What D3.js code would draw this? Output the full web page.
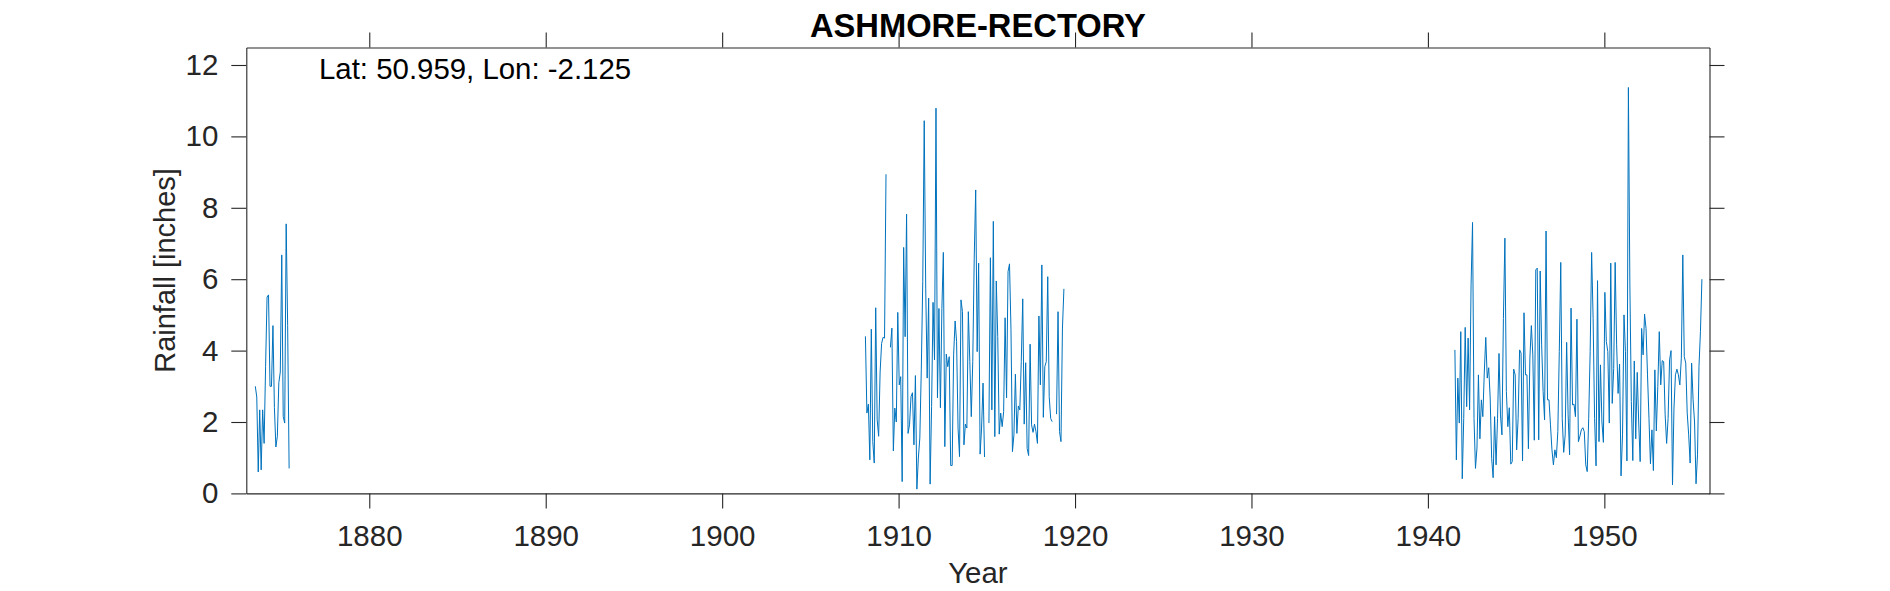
<!DOCTYPE html>
<html>
<head>
<meta charset="utf-8">
<script src="https://cdn.jsdelivr.net/npm/d3@7"></script>
<style>
html,body{margin:0;padding:0;background:#fff;}
svg{display:block;}
text{font-family:"Liberation Sans",Arial,sans-serif;}
</style>
</head>
<body>
<svg id="chart" width="1890" height="591"></svg>
<script>
const chartTitle = "ASHMORE-RECTORY";
const annotation = "Lat: 50.959, Lon: -2.125";
const xLabel = "Year";
const yLabel = "Rainfall [inches]";
const xTicks = [1880,1890,1900,1910,1920,1930,1940,1950];
const yTicks = [0,2,4,6,8,10,12];
const xDomain = [1873.03,1955.96];
const yDomain = [0,12.49];

const start1 = 1873.54;
const rain1 = [3.0,2.7,0.6,2.34,0.66,2.34,1.4,3.55,5.5,5.56,3.0,3.0,4.7,2.4,1.3,1.6,3.1,3.4,6.68,2.15,1.97,7.55,4.7,0.7];

const start2 = 1908.12;
const rain2 = [4.4,2.25,2.5,0.94,4.6,1.45,0.85,5.2,2.06,1.6,3.4,4.2,4.37,4.35,8.94,null,null,
4.09,4.63,1.19,2.39,2.0,5.07,3.04,3.27,0.33,6.89,4.39,7.82,1.68,1.92,2.71,2.82,1.36,3.3,0.12,0.99,1.55,3.46,5.93,10.44,5.75,3.23,5.47,0.26,2.43,5.35,3.74,10.79,2.68,5.18,2.4,5.18,6.75,1.31,3.9,3.55,3.83,0.78,0.78,3.88,4.83,4.25,1.83,1.03,5.42,5.09,1.36,1.94,1.83,5.09,
3.69,2.15,3.7,6.59,8.5,3.97,6.45,1.1,1.83,3.09,1.02,null,null,
1.97,6.6,2.34,7.62,1.59,5.95,4.39,1.66,2.25,1.87,2.29,4.92,2.68,6.21,6.43,4.6,1.17,1.64,3.34,1.68,2.45,2.34,3.69,5.45,1.94,3.66,1.26,1.06,4.18,1.92,1.71,1.94,1.73,1.4,4.97,3.04,6.4,2.13,3.55,3.69,6.07,2.71,2.1,2.01,null,null,
2.22,5.09,1.73,1.45,4.63,5.73];

const start3 = 1941.53;
const rain3 = [4.02,0.94,3.23,1.97,4.53,0.41,2.1,4.65,2.43,4.35,2.34,5.84,7.59,2.1,0.7,1.27,3.32,1.53,2.62,2.15,3.4,4.37,3.23,3.52,2.67,0.98,0.44,2.15,0.8,2.1,3.92,2.2,1.64,4.9,7.15,2.85,1.87,2.4,0.82,0.89,3.48,3.32,1.22,2.1,4.02,3.93,0.91,5.06,3.32,3.32,1.25,3.79,4.7,3.88,1.49,6.26,6.31,1.5,6.23,4.16,2.85,2.06,7.35,2.62,2.62,1.92,1.22,0.8,1.22,1.0,1.73,3.97,6.47,2.1,1.15,1.64,4.23,2.2,1.08,5.19,2.48,2.5,2.15,4.88,1.45,1.6,
1.78,1.84,1.73,0.8,0.61,2.1,3.97,6.75,4.9,2.1,0.77,5.96,1.45,3.6,2.0,1.43,5.63,4.25,3.97,1.97,6.45,2.52,3.5,6.47,4.16,2.8,3.62,0.49,1.64,5.0,3.97,0.91,11.37,5.84,2.57,0.92,3.71,1.53,3.39,2.0,0.89,4.62,3.88,5.02,4.62,3.32,2.1,0.83,1.78,0.64,3.46,1.75,3.0,4.53,3.04,3.72,3.69,2.2,1.4,2.1,3.74,4.0,0.24,2.39,3.32,3.48,3.32,3.04,3.79,6.68,3.83,3.65,2.25,1.64,0.85,3.65,2.62,2.0,0.27,1.08,3.55,4.53,6.0];

const segments = [[start1,rain1],[start2,rain2],[start3,rain3]];

const plotLeft=246.3,plotRight=1709.5,plotTop=47.5,plotBottom=493.4;
const axisColor="#262626", lineColor="#0072BD";
const svg=d3.select("#chart");
const x=d3.scaleLinear().domain(xDomain).range([plotLeft,plotRight]);
const y=d3.scaleLinear().domain(yDomain).range([plotBottom,plotTop]);

const style=(g,size)=>{
  g.selectAll("path.domain").attr("stroke",axisColor).attr("stroke-width",1.1);
  g.selectAll("line").attr("stroke",axisColor).attr("stroke-width",1.1);
  g.selectAll("text").attr("fill",axisColor).style("font-size",size+"px").style("font-family",'"Liberation Sans",Arial,sans-serif');
};
const fmt=d3.format("d");
const blank=()=>"";
svg.append("g").attr("transform",`translate(0,${plotBottom})`)
  .call(d3.axisBottom(x).tickValues(xTicks).tickFormat(fmt).tickSize(15).tickSizeOuter(0).tickPadding(17))
  .call(style,29.5);
svg.append("g").attr("transform",`translate(0,${plotTop})`)
  .call(d3.axisTop(x).tickValues(xTicks).tickFormat(blank).tickSize(15).tickSizeOuter(0))
  .call(style,29.5);
svg.append("g").attr("transform",`translate(${plotLeft},0)`)
  .call(d3.axisLeft(y).tickValues(yTicks).tickFormat(fmt).tickSize(15).tickSizeOuter(0).tickPadding(13))
  .call(style,29.5);
svg.append("g").attr("transform",`translate(${plotRight},0)`)
  .call(d3.axisRight(y).tickValues(yTicks).tickFormat(blank).tickSize(15).tickSizeOuter(0))
  .call(style,29.5);

const line=d3.line().defined(d=>d.v!==null).x(d=>x(d.t)).y(d=>y(d.v));
svg.append("g").selectAll("path").data(segments).join("path")
  .attr("fill","none").attr("stroke",lineColor).attr("stroke-width",1)
  .attr("d",([s,vals])=>line(vals.map((v,i)=>({t:s+i/12,v}))));

svg.append("text").attr("x",(plotLeft+plotRight)/2).attr("y",37).attr("text-anchor","middle")
  .attr("fill","#000").style("font-size","32.7px").style("font-weight","bold").text(chartTitle);
svg.append("text").attr("x",319).attr("y",79).attr("fill","#000").style("font-size","29.4px").text(annotation);
svg.append("text").attr("x",(plotLeft+plotRight)/2).attr("y",583).attr("text-anchor","middle")
  .attr("fill",axisColor).style("font-size","29.4px").text(xLabel);
svg.append("text").attr("transform",`translate(175,${(plotTop+plotBottom)/2}) rotate(-90)`).attr("text-anchor","middle")
  .attr("fill",axisColor).style("font-size","29px").text(yLabel);
</script>
</body>
</html>
